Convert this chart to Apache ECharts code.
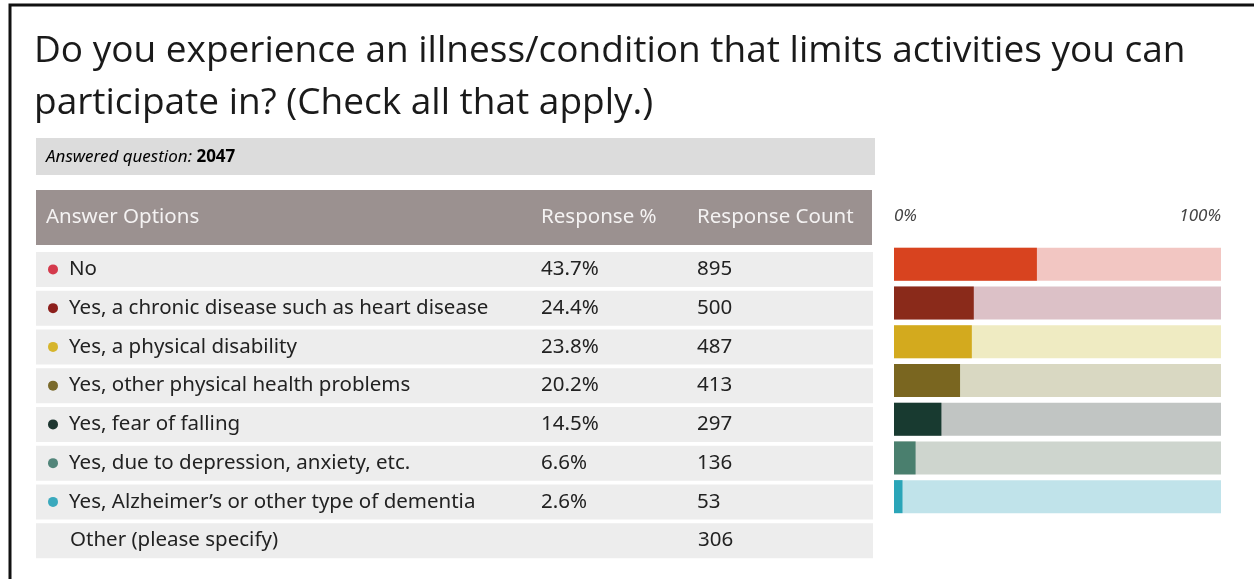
<!DOCTYPE html>
<html lang="en">
<head>
    <meta charset="utf-8">
    <title>Illness / condition survey</title>
    <script src="https://cdn.jsdelivr.net/npm/echarts@6/dist/echarts.min.js"></script>
    <style>
        html, body { margin: 0; padding: 0; background: #fff; }
        #main { width: 1254px; height: 579px; }
    </style>
</head>
<body>
<div id="main"></div>
<script>
// survey data
var answers = ['No', 'Yes, a chronic disease such as heart disease', 'Yes, a physical disability',
    'Yes, other physical health problems', 'Yes, fear of falling', 'Yes, due to depression, anxiety, etc.',
    'Yes, Alzheimer\u2019s or other type of dementia', 'Other (please specify)'];
var percents = [43.7, 24.4, 23.8, 20.2, 14.5, 6.6, 2.6, null];
var counts = [895, 500, 487, 413, 297, 136, 53, 306];
var answered = 2047;
var dotColors = ['#d43a4c', '#8c1f1c', '#d6b52c', '#7a6a2c', '#1e3630', '#52857a', '#3aa9bd', null];
var fillColors = ['#d8431f', '#8a2a1a', '#d3aa1e', '#7a6620', '#183a30', '#4a7f6e', '#2aa5b8'];
var trackColors = ['#f2c6c2', '#dcc1c7', '#efebc2', '#d9d8c2', '#c1c5c3', '#ced5ce', '#c0e3ea'];
var scaleLabels = ['0%', '100%'];

var chart = echarts.init(document.getElementById('main'));

var barAnswers = answers.slice(0, 7);
var barPercents = percents.slice(0, 7);
var bodyFont = 'Noto Sans';

// rich styles, one dot style per row
var rich = {
    n: { width: 472, fontSize: 20.5, color: '#222', fontFamily: bodyFont, align: 'left' },
    p: { width: 156, fontSize: 20.5, color: '#222', fontFamily: bodyFont, align: 'left' },
    c: { fontSize: 20.5, color: '#222', fontFamily: bodyFont, align: 'left' },
    gap: { width: 11 },
    blank: { width: 11 }
};
dotColors.forEach(function (col, i) {
    if (col) rich['d' + i] = { backgroundColor: col, width: 10, height: 10, borderRadius: 5 };
});

var option = {
    animation: false,
    textStyle: { fontFamily: bodyFont },
    title: [{
        text: 'Do you experience an illness/condition that limits activities you can\nparticipate in? (Check all that apply.)',
        left: 29, top: 20,
        textStyle: { fontFamily: 'Open Sans', fontSize: 37, fontWeight: 'normal', color: '#1a1a1a', lineHeight: 52 }
    }],
    graphic: [
        // frame
        { type: 'rect', shape: { x: 10, y: 5, width: 1300, height: 620 }, style: { fill: 'none', stroke: '#111', lineWidth: 3 }, silent: true },
        // answered question strip
        { type: 'rect', shape: { x: 36, y: 138, width: 839, height: 37 }, style: { fill: '#dcdcdc' }, silent: true },
        { type: 'text', x: 46, y: 157, style: {
            text: '{i|Answered question: }{b|' + answered + '}', verticalAlign: 'middle',
            rich: { i: { fontStyle: 'italic', fontSize: 17, color: '#222', fontFamily: bodyFont },
                    b: { fontWeight: 'bold', fontSize: 17, color: '#111', fontFamily: bodyFont } } } },
        // header
        { type: 'rect', shape: { x: 36, y: 190, width: 836, height: 55 }, style: { fill: '#9b9190' }, silent: true },
        { type: 'text', x: 46, y: 217, style: { text: 'Answer Options', fill: '#f4f2f2', fontSize: 20.5, fontFamily: bodyFont, verticalAlign: 'middle' } },
        { type: 'text', x: 541, y: 217, style: { text: 'Response %', fill: '#f4f2f2', fontSize: 20.5, fontFamily: bodyFont, verticalAlign: 'middle' } },
        { type: 'text', x: 697, y: 217, style: { text: 'Response Count', fill: '#f4f2f2', fontSize: 20.5, fontFamily: bodyFont, verticalAlign: 'middle' } }
    ],
    grid: [
        { left: 36, top: 250, width: 837, height: 310 },
        { left: 894, top: 245, width: 327, height: 271 }
    ],
    xAxis: [
        { gridIndex: 0, type: 'value', min: 0, max: 1, show: false },
        { gridIndex: 1, type: 'value', min: 0, max: 100, interval: 100, position: 'top',
          axisLine: { show: false }, axisTick: { show: false }, splitLine: { show: false },
          axisLabel: { margin: 20, fontStyle: 'italic', fontSize: 17, color: '#444', fontFamily: bodyFont,
                       alignMinLabel: 'left', alignMaxLabel: 'right',
                       formatter: function (v) { return v === 0 ? scaleLabels[0] : scaleLabels[1]; } } }
    ],
    yAxis: [
        { gridIndex: 0, type: 'category', inverse: true, data: answers,
          axisLine: { show: false }, axisTick: { show: false },
          axisLabel: {
              inside: true, margin: 12, align: 'left',
              formatter: function (v, i) {
                  var dot = dotColors[i] ? '{d' + i + '|}' : '{blank|}';
                  var p = percents[i] == null ? '' : percents[i].toFixed(1) + '%';
                  return dot + '{gap|}{n|' + v + '}{p|' + p + '}{c|' + counts[i] + '}';
              },
              rich: rich
          },
          z: 10 },
        { gridIndex: 1, type: 'category', inverse: true, data: barAnswers, show: false }
    ],
    series: [
        {   // table row bands
            type: 'bar', xAxisIndex: 0, yAxisIndex: 0, silent: true,
            data: answers.map(function () { return 1; }),
            barWidth: 35, itemStyle: { color: '#ededed' }, z: 1
        },
        {   // tracks
            type: 'bar', xAxisIndex: 1, yAxisIndex: 1, silent: true,
            data: barAnswers.map(function (a, i) { return { value: 100, itemStyle: { color: trackColors[i] } }; }),
            barWidth: 33
        },
        {   // filled share
            type: 'bar', xAxisIndex: 1, yAxisIndex: 1, barGap: '-100%',
            data: barPercents.map(function (v, i) { return { value: v, itemStyle: { color: fillColors[i] } }; }),
            barWidth: 33
        }
    ]
};
chart.setOption(option);
</script>
</body>
</html>
